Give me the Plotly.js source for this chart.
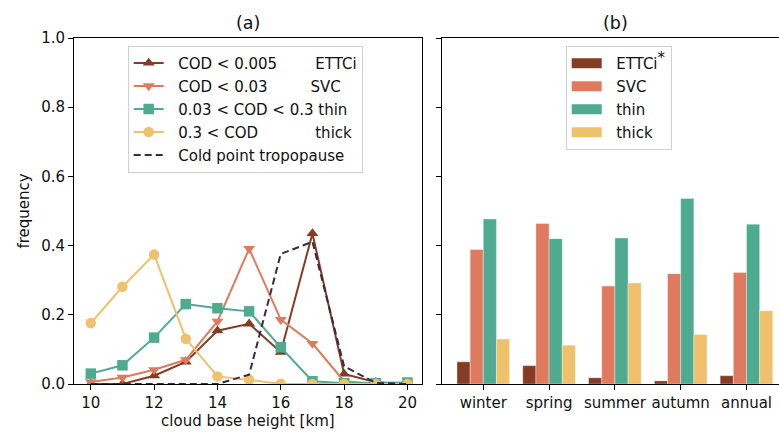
<!DOCTYPE html>
<html>
<head>
<meta charset="utf-8">
<script src="https://cdn.plot.ly/plotly-3.0.1.min.js"></script>
<style>html,body{margin:0;padding:0;background:#fff;}#chart{width:779px;height:432px;}</style>
</head>
<body>
<div id="chart"></div>
<script>
// ---- data ----
const heights = [10, 11, 12, 13, 14, 15, 16, 17, 18, 19, 20];
const ettciFreq = [0.0, 0.0, 0.024, 0.064, 0.154, 0.174, 0.092, 0.435, 0.029, 0.005, 0.0];
const svcFreq   = [0.006, 0.019, 0.041, 0.070, 0.181, 0.391, 0.186, 0.117, 0.008, 0.001, 0.0];
const thinFreq  = [0.030, 0.054, 0.134, 0.231, 0.219, 0.210, 0.106, 0.008, 0.002, 0.002, 0.004];
const thickFreq = [0.176, 0.281, 0.374, 0.131, 0.022, 0.012, 0.001, 0.0, 0.0, 0.0, 0.0];
const cptFreq   = [0.0, 0.0, 0.0, 0.0, 0.0, 0.027, 0.376, 0.411, 0.051, 0.003, 0.0];

const seasons = ['winter', 'spring', 'summer', 'autumn', 'annual'];
const ettciSeason = [0.064, 0.053, 0.018, 0.009, 0.024];
const svcSeason   = [0.389, 0.464, 0.283, 0.319, 0.322];
const thinSeason  = [0.477, 0.420, 0.422, 0.536, 0.462];
const thickSeason = [0.130, 0.112, 0.292, 0.143, 0.212];

const sp = n => '\u00a0'.repeat(n);
const lineNames = [sp(2) + 'COD < 0.005' + sp(8) + 'ETTCi',
                   sp(2) + 'COD < 0.03' + sp(9) + 'SVC',
                   sp(2) + '0.03 < COD < 0.3 thin',
                   sp(2) + '0.3 < COD' + sp(12) + 'thick',
                   sp(2) + 'Cold point tropopause'];
const barNames = [sp(2) + 'ETTCi<sup><span style="font-size:15px">*</span></sup>', sp(2) + 'SVC', sp(2) + 'thin', sp(2) + 'thick'];

// ---- style ----
const C = {ettci: '#843c24', svc: '#e07a5f', thin: '#4fab8f', thick: '#f0c16c', cpt: '#3b2844'};
const FONT = 'DejaVu Sans, sans-serif';
const FS = 15;

function lineTrace(y, name, color, symbol, grp) {
  return {x: heights, y: y, name: name, type: 'scatter', mode: 'lines+markers',
    line: {color: color, width: 2}, marker: {color: color, symbol: symbol, size: 10.5},
    xaxis: 'x', yaxis: 'y', legend: 'legend', legendgroup: grp};
}
function barTrace(y, color) {
  return {x: seasons, y: y, type: 'bar', showlegend: false,
    marker: {color: color, line: {color: 'rgba(255,255,255,0.6)', width: 0.6}},
    xaxis: 'x2', yaxis: 'y2'};
}
function swatch(name, color, grp) {
  return {x: [null], y: [null], name: name, type: 'scatter', mode: 'lines',
    line: {color: color, width: 10}, xaxis: 'x2', yaxis: 'y2', legend: 'legend2', legendgroup: grp};
}

const data = [
  lineTrace(ettciFreq, lineNames[0], C.ettci, 'triangle-up', 'a'),
  lineTrace(svcFreq, lineNames[1], C.svc, 'triangle-down', 'b'),
  lineTrace(thinFreq, lineNames[2], C.thin, 'square', 'c'),
  lineTrace(thickFreq, lineNames[3], C.thick, 'circle', 'd'),
  {x: heights, y: cptFreq, name: lineNames[4], type: 'scatter', mode: 'lines',
   line: {color: C.cpt, width: 2, dash: '7px,4px'}, xaxis: 'x', yaxis: 'y', legend: 'legend', legendgroup: 'e'},
  barTrace(ettciSeason, C.ettci),
  barTrace(svcSeason, C.svc),
  barTrace(thinSeason, C.thin),
  barTrace(thickSeason, C.thick),
  swatch(barNames[0], C.ettci, 'f'),
  swatch(barNames[1], C.svc, 'g'),
  swatch(barNames[2], C.thin, 'h'),
  swatch(barNames[3], C.thick, 'i')
];

const axisBase = {showline: true, linecolor: '#000', linewidth: 1, ticks: 'outside', ticklen: 5,
  tickcolor: '#000', tickwidth: 1, showgrid: false, zeroline: false,
  tickfont: {family: FONT, size: FS, color: '#111'}};

const layout = {
  width: 779, height: 432,
  margin: {l: 0, r: 0, t: 38, b: 48},
  paper_bgcolor: '#fff', plot_bgcolor: '#fff',
  font: {family: FONT, size: FS, color: '#111'},
  showlegend: true,
  barmode: 'group', bargap: 0.2, bargroupgap: 0,
  xaxis: Object.assign({}, axisBase, {domain: [74 / 779, 421.7 / 779], range: [9.47, 20.45],
    tickvals: [10, 12, 14, 16, 18, 20], mirror: true,
    title: {text: 'cloud base height [km]', font: {family: FONT, size: FS, color: '#111'}, standoff: 3}}),
  yaxis: Object.assign({}, axisBase, {domain: [0, 1], range: [0, 1], tickvals: [0, 0.2, 0.4, 0.6, 0.8, 1.0],
    tickformat: '.1f', mirror: true,
    title: {text: 'frequency', font: {family: FONT, size: FS, color: '#111'}, standoff: 7}}),
  xaxis2: Object.assign({}, axisBase, {domain: [441.7 / 779, 1], range: [-0.632, 4.494], type: 'category',
    categoryorder: 'array', categoryarray: seasons, mirror: true, anchor: 'y2'}),
  yaxis2: Object.assign({}, axisBase, {domain: [0, 1], range: [0, 1], tickvals: [0, 0.2, 0.4, 0.6, 0.8, 1.0],
    showticklabels: false, anchor: 'x2', mirror: false}),
  legend: {x: 127.7 / 779, xanchor: 'left', y: 1 - (45.7 - 38) / 346, yanchor: 'top',
    bgcolor: 'rgba(255,255,255,0.8)', bordercolor: '#d0d0d0', borderwidth: 1,
    font: {family: FONT, size: FS, color: '#111'}, tracegroupgap: 0.5, itemwidth: 30},
  legend2: {x: 565.7 / 779, xanchor: 'left', y: 1 - (46 - 38) / 346, yanchor: 'top',
    bgcolor: 'rgba(255,255,255,0.8)', bordercolor: '#d0d0d0', borderwidth: 1,
    font: {family: FONT, size: FS, color: '#111'}, tracegroupgap: 0.5, itemwidth: 30},
  annotations: [
    {text: '(a)', xref: 'paper', yref: 'paper', x: (74 + 421.7) / 2 / 779, y: 1, yanchor: 'bottom',
     xanchor: 'center', yshift: 3, showarrow: false, font: {family: FONT, size: 17.5, color: '#111'}},
    {text: '(b)', xref: 'paper', yref: 'paper', x: 615 / 779, y: 1, yanchor: 'bottom',
     xanchor: 'center', yshift: 3, showarrow: false, font: {family: FONT, size: 17.5, color: '#111'}}
  ]
};

Plotly.newPlot('chart', data, layout, {staticPlot: true, displayModeBar: false});
</script>
</body>
</html>
